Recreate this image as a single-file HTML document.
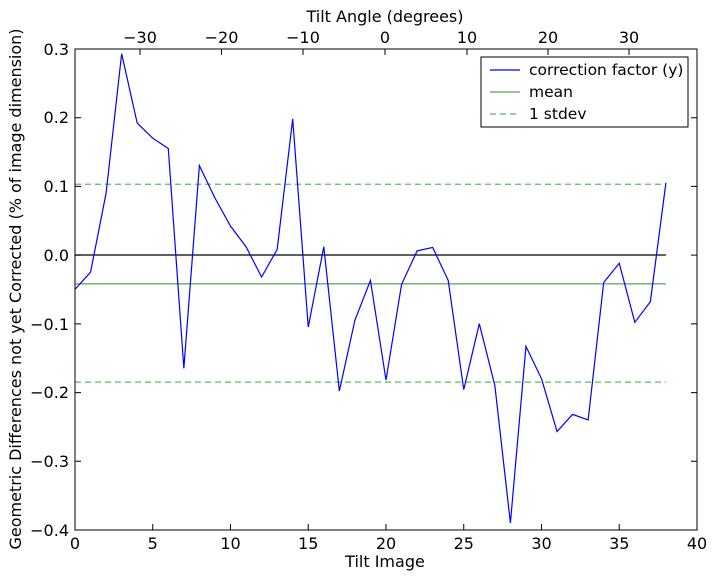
<!DOCTYPE html>
<html><head><meta charset="utf-8"><style>
html,body{margin:0;padding:0;background:#fff;}
svg text{font-family:"DejaVu Sans","Liberation Sans",sans-serif;font-size:16px;fill:#000;}
</style></head><body>
<svg width="714" height="579" xmlns="http://www.w3.org/2000/svg">
<rect width="714" height="579" fill="#fff"/>
<g transform="translate(75,255) scale(15.55,-687)">
<line x1="0" y1="0" x2="38" y2="0" stroke="#000" stroke-width="1.2" vector-effect="non-scaling-stroke"/>
<line x1="0" y1="-0.042" x2="38" y2="-0.042" stroke="#2e8b2e" stroke-width="1" vector-effect="non-scaling-stroke"/>
<line x1="0" y1="0.103" x2="38" y2="0.103" stroke="#5cb85c" stroke-width="1.2" stroke-dasharray="6,4" vector-effect="non-scaling-stroke"/>
<line x1="0" y1="-0.185" x2="38" y2="-0.185" stroke="#5cb85c" stroke-width="1.2" stroke-dasharray="6,4" vector-effect="non-scaling-stroke"/>
<polyline fill="none" stroke="#0000ff" stroke-width="1.2" vector-effect="non-scaling-stroke" points="0,-0.05 1,-0.025 2,0.09 3,0.293 4,0.192 5,0.17 6,0.155 7,-0.165 8,0.13 9,0.083 10,0.042 11,0.012 12,-0.032 13,0.008 14,0.198 15,-0.105 16,0.012 17,-0.198 18,-0.095 19,-0.037 20,-0.182 21,-0.043 22,0.006 23,0.011 24,-0.037 25,-0.196 26,-0.1 27,-0.19 28,-0.39 29,-0.133 30,-0.18 31,-0.257 32,-0.232 33,-0.24 34,-0.04 35,-0.012 36,-0.098 37,-0.068 38,0.105"/>
</g>
<rect x="75" y="49" width="622" height="481" fill="none" stroke="#000" stroke-width="1"/>
<g stroke="#000" stroke-width="1">
<path d="M75,530v-6M152.75,530v-6M230.5,530v-6M308.25,530v-6M386,530v-6M463.75,530v-6M541.5,530v-6M619.25,530v-6M697,530v-6"/>
<path d="M140,49v6M221.5,49v6M303,49v6M385,49v6M467,49v6M548,49v6M629,49v6"/>
<path d="M75,49h6M75,117.7h6M75,186.4h6M75,255.1h6M75,323.9h6M75,392.6h6M75,461.3h6M75,530h6"/>
<path d="M697,49h-6M697,117.7h-6M697,186.4h-6M697,255.1h-6M697,323.9h-6M697,392.6h-6M697,461.3h-6M697,530h-6"/>
</g>
<g text-anchor="middle">
<text x="75" y="549">0</text><text x="152.75" y="549">5</text><text x="230.5" y="549">10</text><text x="308.25" y="549">15</text><text x="386" y="549">20</text><text x="463.75" y="549">25</text><text x="541.5" y="549">30</text><text x="619.25" y="549">35</text><text x="697" y="549">40</text>
<text x="140" y="43">−30</text><text x="221.5" y="43">−20</text><text x="303" y="43">−10</text><text x="385" y="43">0</text><text x="467" y="43">10</text><text x="548" y="43">20</text><text x="629" y="43">30</text>
<text x="385" y="567">Tilt Image</text>
<text x="385" y="22">Tilt Angle (degrees)</text>
<text transform="translate(21,289) rotate(-90)">Geometric Differences not yet Corrected (% of image dimension)</text>
</g>
<g text-anchor="end">
<text x="69" y="55">0.3</text><text x="69" y="123">0.2</text><text x="69" y="192">0.1</text><text x="69" y="261">0.0</text><text x="69" y="330">−0.1</text><text x="69" y="398">−0.2</text><text x="69" y="467">−0.3</text><text x="69" y="536">−0.4</text>
</g>
<rect x="481" y="57" width="207" height="70" fill="#fff" stroke="#000" stroke-width="1"/>
<line x1="490" y1="70" x2="520" y2="70" stroke="#0000ff" stroke-width="1.2"/>
<line x1="490" y1="92" x2="520" y2="92" stroke="#2e8b2e" stroke-width="1"/>
<line x1="490" y1="114" x2="520" y2="114" stroke="#5cb85c" stroke-width="1.2" stroke-dasharray="6,4"/>
<text x="529" y="75" style="font-size:15.5px">correction factor (y)</text>
<text x="529" y="97" style="font-size:15.5px">mean</text>
<text x="529" y="119" style="font-size:15.5px">1 stdev</text>
</svg>
</body></html>
